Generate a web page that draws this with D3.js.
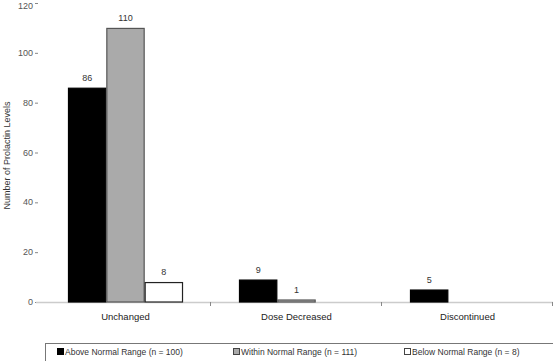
<!DOCTYPE html>
<html>
<head>
<meta charset="utf-8">
<script src="https://cdn.jsdelivr.net/npm/d3@7"></script>
<style>
  body { margin: 0; background: #fff; }
  text { font-family: "Liberation Sans", Arial, sans-serif; }
</style>
</head>
<body>
<div id="chart"></div>
<script>
const categories = ["Unchanged", "Dose Decreased", "Discontinued"];
const seriesNames = ["Above Normal Range (n = 100)", "Within Normal Range (n = 111)", "Below Normal Range (n = 8)"];
const aboveValues = [86, 9, 5];
const withinValues = [110, 1, 0];
const belowValues = [8, 0, 0];
const yTicks = [0, 20, 40, 60, 80, 100, 120];

const width = 553, height = 361;
const margin = { top: 3, right: 0, bottom: 59, left: 40 };

const fills = ["#000", "#aaa", "#fff"];
const strokes = ["#000", "#555", "#222"];
const seriesValues = [aboveValues, withinValues, belowValues];

const svg = d3.select("#chart").append("svg")
  .attr("width", width)
  .attr("height", height);

const x0 = d3.scaleBand()
  .domain(categories)
  .range([margin.left, width - margin.right])
  .padding(0);

const x1 = d3.scaleBand()
  .domain(d3.range(seriesNames.length))
  .range([0, x0.bandwidth()])
  .paddingInner(0)
  .paddingOuter(0.73);

const y = d3.scaleLinear()
  .domain([0, 120])
  .range([height - margin.bottom, margin.top]);

// y tick labels
const yAxis = svg.append("g").attr("font-size", 9).attr("fill", "#555");
yTicks.forEach(t => {
  yAxis.append("text")
    .attr("x", 33)
    .attr("y", Math.max(y(t), 6))
    .attr("dy", "0.35em")
    .attr("text-anchor", "end")
    .text(t);
  yAxis.append("line")
    .attr("x1", 35).attr("x2", 38)
    .attr("y1", y(t) + 0.5).attr("y2", y(t) + 0.5)
    .attr("stroke", "#888");
});

svg.append("text")
  .attr("transform", `translate(10,${(y(0) + y(120)) / 2 + 3}) rotate(-90)`)
  .attr("text-anchor", "middle")
  .attr("font-size", 9)
  .attr("fill", "#333")
  .text("Number of Prolactin Levels");

// x axis line + ticks
svg.append("line")
  .attr("x1", 36).attr("x2", width)
  .attr("y1", y(0) + 0.5).attr("y2", y(0) + 0.5)
  .attr("stroke", "#ccc")
  .attr("stroke-width", 1.5);

categories.forEach((c, i) => {
  const xt = x0(c) + x0.bandwidth();
  svg.append("line")
    .attr("x1", xt - 0.5).attr("x2", xt - 0.5)
    .attr("y1", y(0)).attr("y2", y(0) + 4)
    .attr("stroke", "#888");
  svg.append("text")
    .attr("x", x0(c) + x0.bandwidth() / 2)
    .attr("y", y(0) + 18)
    .attr("text-anchor", "middle")
    .attr("font-size", 9.5)
    .attr("fill", "#222")
    .text(c);
});

// bars
seriesValues.forEach((vals, s) => {
  vals.forEach((v, i) => {
    if (v === 0) return;
    const bx = x0(categories[i]) + x1(s);
    svg.append("rect")
      .attr("x", bx + 0.5)
      .attr("y", y(v) + 0.5)
      .attr("width", x1.bandwidth() - 1)
      .attr("height", Math.max(0.5, y(0) - y(v) - 0.5))
      .attr("fill", fills[s])
      .attr("stroke", strokes[s])
      .attr("stroke-width", 1.2);
    svg.append("text")
      .attr("x", bx + x1.bandwidth() / 2)
      .attr("y", y(v) - 7)
      .attr("text-anchor", "middle")
      .attr("font-size", 9)
      .attr("fill", "#333")
      .text(v);
  });
});

// legend
const legend = svg.append("g");
legend.append("rect")
  .attr("x", 45.5).attr("y", 343.5)
  .attr("width", 540).attr("height", 40)
  .attr("fill", "none")
  .attr("stroke", "#777");

const legendX = [57, 233, 404];
seriesNames.forEach((name, s) => {
  legend.append("rect")
    .attr("x", legendX[s] + 0.5).attr("y", 348.5)
    .attr("width", 6).attr("height", 6)
    .attr("fill", fills[s])
    .attr("stroke", s === 0 ? "#000" : "#444");
  legend.append("text")
    .attr("x", legendX[s] + 8)
    .attr("y", 355)
    .attr("font-size", 8.5)
    .attr("fill", "#333")
    .text(name);
});
</script>
</body>
</html>
